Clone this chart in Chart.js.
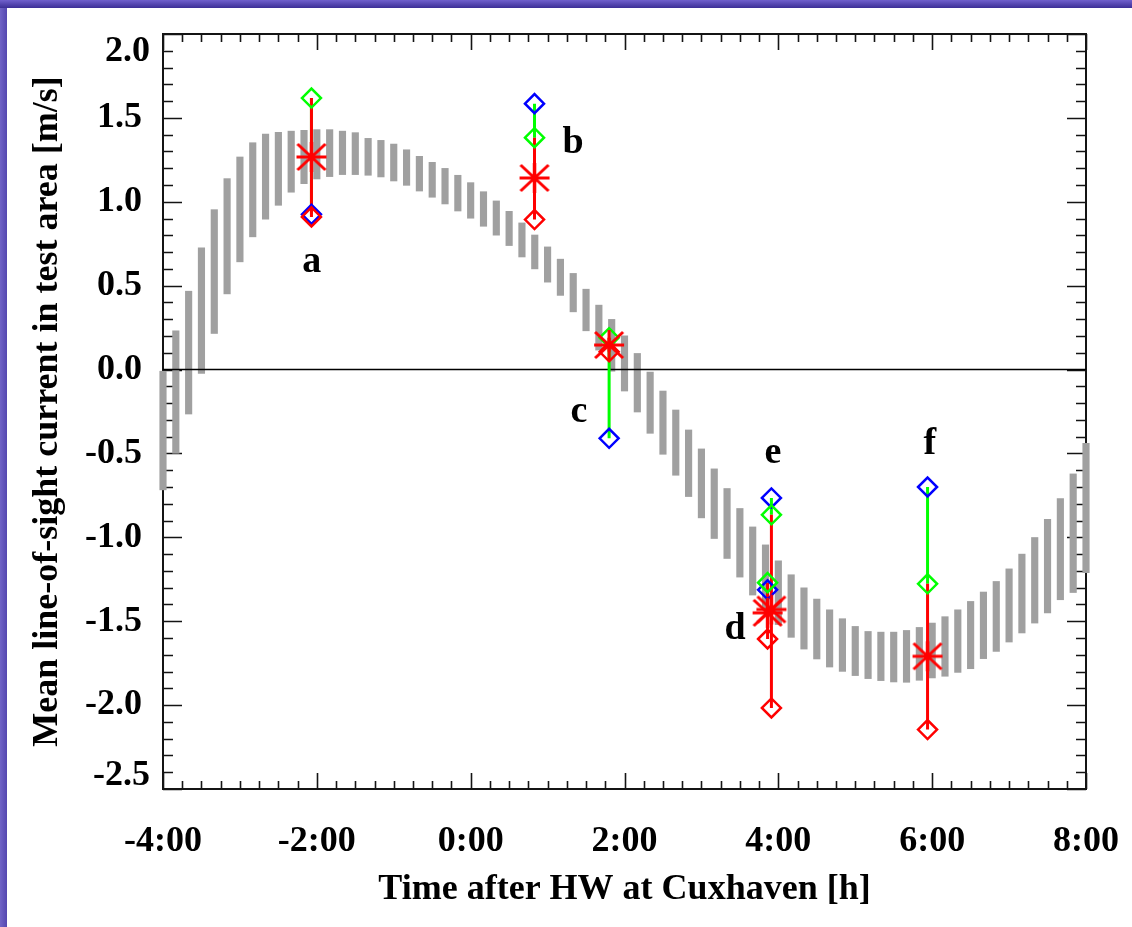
<!DOCTYPE html>
<html>
<head>
<meta charset="utf-8">
<script src="https://cdn.jsdelivr.net/npm/chart.js@4/dist/chart.umd.min.js"></script>
<style>
html,body{margin:0;padding:0;background:#fff;width:1132px;height:927px;overflow:hidden;}
#wrap{position:relative;width:1132px;height:927px;}
#c{position:absolute;left:0;top:0;}
#topbar{position:absolute;left:0;top:0;width:1132px;height:8px;background:linear-gradient(#7060cc,#3c2e96);z-index:3;}
#leftbar{position:absolute;left:0;top:0;width:7px;height:927px;background:linear-gradient(to right,#7064c6,#5447b0);z-index:2;}
</style>
</head>
<body>
<div id="wrap">
<div id="topbar"></div>
<div id="leftbar"></div>
<canvas id="c" width="1132" height="927"></canvas>
</div>
<script>
// ---- data ----
const barMinutes = [-240,-230,-220,-210,-200,-190,-180,-170,-160,-150,-140,-130,-120,-110,-100,-90,-80,-70,-60,-50,-40,-30,-20,-10,
  0,10,20,30,40,50,60,70,80,90,100,110,120,130,140,150,160,170,180,190,200,210,220,230,240,250,260,270,280,290,300,310,
  320,330,340,350,360,370,380,390,400,410,420,430,440,450,460,470,480];
const barHigh = [-0.01,0.231,0.467,0.725,0.953,1.138,1.267,1.352,1.404,1.414,1.421,1.426,1.43,1.43,1.421,1.412,1.378,1.366,1.344,1.31,1.271,1.235,1.199,1.158,
  1.114,1.06,1.005,0.943,0.874,0.802,0.731,0.658,0.573,0.479,0.384,0.299,0.201,0.096,-0.015,-0.128,-0.241,-0.36,-0.473,-0.592,-0.709,-0.828,-0.938,-1.045,-1.14,-1.223,-1.301,-1.368,-1.432,-1.485,-1.531,-1.561,
  -1.565,-1.565,-1.555,-1.537,-1.511,-1.473,-1.432,-1.382,-1.326,-1.263,-1.188,-1.1,-1.001,-0.892,-0.769,-0.622,-0.439];
const barLow = [-0.717,-0.499,-0.265,-0.023,0.215,0.451,0.642,0.791,0.896,0.979,1.057,1.108,1.136,1.15,1.162,1.162,1.158,1.148,1.124,1.098,1.064,1.027,0.987,0.945,
  0.902,0.854,0.801,0.739,0.671,0.6,0.521,0.442,0.344,0.231,0.116,-0.01,-0.128,-0.253,-0.38,-0.505,-0.63,-0.757,-0.884,-1.007,-1.126,-1.237,-1.344,-1.43,-1.52,-1.596,-1.666,-1.725,-1.773,-1.799,-1.824,-1.842,
  -1.854,-1.862,-1.864,-1.852,-1.838,-1.828,-1.805,-1.783,-1.723,-1.68,-1.624,-1.57,-1.511,-1.451,-1.372,-1.329,-1.21];

const eventNames  = ['a','b','c','d','e','f'];
const eventTimes  = [-2.07, 0.83, 1.80, 3.86, 3.91, 5.94];
const blueValues  = [0.925, 1.585, -0.41, -1.313, -0.765, -0.70];
const greenValues = [1.618, 1.382, 0.19, -1.27, -0.866, -1.277];
const redValues   = [0.91, 0.894, 0.106, -1.606, -2.017, -2.146];
const meanValues  = [1.267, 1.142, 0.146, -1.45, -1.43, -1.709];
// letter annotation anchors (time, value of text baseline)
const letterTimes  = [-2.066, 1.330, 1.408, 3.436, 3.930, 5.971];
const letterValues = [0.583, 1.291, -0.310, -1.607, -0.555, -0.503];

const xTickValues = [-4,-2,0,2,4,6,8];
const xTickLabels = ['-4:00','-2:00','0:00','2:00','4:00','6:00','8:00'];
const yTickValues = [-2.5,-2,-1.5,-1,-0.5,0,0.5,1,1.5,2];
const yTickLabels = ['-2.5','-2.0','-1.5','-1.0','-0.5','0.0','0.5','1.0','1.5','2.0'];

// ---- styles ----
const FONT = 'Liberation Serif';
const tickFont = {family: FONT, size: 36, weight: 'bold'};

function makeAsterisk(){
  const c = document.createElement('canvas');
  c.width = 36; c.height = 36;
  const g = c.getContext('2d');
  g.strokeStyle = '#ff0000'; g.lineWidth = 3;
  const cx = 18, cy = 18;
  g.beginPath();
  g.moveTo(cx-15, cy); g.lineTo(cx+15, cy);
  g.moveTo(cx, cy-15); g.lineTo(cx, cy+15);
  g.moveTo(cx-14, cy-13); g.lineTo(cx+14, cy+13);
  g.moveTo(cx+14, cy-13); g.lineTo(cx-14, cy+13);
  g.stroke();
  return c;
}
const asterisk = makeAsterisk();

function segments(fromArr, toArr){
  const out = [];
  eventTimes.forEach((t,i)=>{
    out.push({x:t, y:fromArr[i]}, {x:t, y:toArr[i]}, {x:t, y:null});
  });
  return out;
}
function points(arr){ return eventTimes.map((t,i)=>({x:t, y:arr[i]})); }

function diamond(arr, color, order){
  return {type:'line', data: points(arr), showLine:false, pointStyle:'rectRot',
    pointRadius:9.5, pointBorderWidth:2.5, pointBackgroundColor:'rgba(0,0,0,0)',
    pointBorderColor: color, order, clip:false};
}

const frameTicks = {
  id: 'frameTicks',
  beforeDatasetsDraw(chart){
    const {ctx, chartArea:{left,right,top,bottom}, scales:{x,y}} = chart;
    ctx.save();
    ctx.strokeStyle = '#141414';
    ctx.lineWidth = 2;
    ctx.strokeRect(left, top, right-left, bottom-top);
    ctx.lineWidth = 1.6;
    ctx.beginPath();
    for (let m = -16; m <= 32; m++){
      const px = Math.round(x.getPixelForValue(m/4)) + 0.5;
      const len = (m % 8 === 0) ? 16 : 8;
      ctx.moveTo(px, bottom); ctx.lineTo(px, bottom-len);
      ctx.moveTo(px, top); ctx.lineTo(px, top+len);
    }
    for (let k = -25; k <= 20; k++){
      const py = Math.round(y.getPixelForValue(k/10)) + 0.5;
      const len = (k % 5 === 0) ? 19 : 10;
      ctx.moveTo(left, py); ctx.lineTo(left+len, py);
      ctx.moveTo(right, py); ctx.lineTo(right-len, py);
    }
    ctx.stroke();
    ctx.restore();
  },
  afterDraw(chart){
    const {ctx, scales:{x,y}} = chart;
    ctx.save();
    ctx.fillStyle = '#000';
    // edge y labels pushed inside the axis range
    ctx.font = 'bold 36px "' + FONT + '"';
    ctx.textAlign = 'right'; ctx.textBaseline = 'middle';
    const n = yTickValues.length;
    ctx.fillText(yTickLabels[n-1], y.left + y.width - 13, y.getPixelForValue(yTickValues[n-1]) + 18);
    ctx.fillText(yTickLabels[0], y.left + y.width - 13, y.getPixelForValue(yTickValues[0]) - 13);
    // event letters
    ctx.font = 'bold 38px "' + FONT + '"';
    ctx.textAlign = 'center'; ctx.textBaseline = 'alphabetic';
    eventNames.forEach((s,i)=>{
      ctx.fillText(s, x.getPixelForValue(letterTimes[i]), y.getPixelForValue(letterValues[i]));
    });
    ctx.restore();
  }
};

new Chart(document.getElementById('c'), {
  type: 'bar',
  data: {
    datasets: [
      {type:'bar', data: barMinutes.map((m,i)=>({x:m/60, y:[barLow[i], barHigh[i]]})),
        backgroundColor:'#a0a0a0', borderWidth:0, barThickness:6.5, order:10, clip:false},
      {type:'line', data:[{x:-4,y:0},{x:8,y:0}], borderColor:'#000', borderWidth:1.5,
        pointRadius:0, order:9},
      {type:'line', data: segments(blueValues, greenValues), borderColor:'#00ff00', borderWidth:3,
        pointRadius:0, spanGaps:false, order:8, clip:false},
      {type:'line', data: segments(greenValues, redValues), borderColor:'#ff0000', borderWidth:3,
        pointRadius:0, spanGaps:false, order:7, clip:false},
      diamond(blueValues, '#0000ff', 6),
      diamond(greenValues, '#00ff00', 5),
      diamond(redValues, '#ff0000', 4),
      {type:'line', data: points(meanValues), showLine:false, pointStyle: asterisk,
        pointRadius:15, order:1, clip:false}
    ]
  },
  options: {
    responsive:false, devicePixelRatio:1, animation:false,
    layout:{padding:{top:34, right:46, left:0, bottom:0}},
    plugins:{legend:{display:false}, tooltip:{enabled:false}},
    scales:{
      x:{type:'linear', min:-4, max:8, offset:false,
        grid:{display:false, offset:false}, border:{display:false},
        afterBuildTicks: s => { s.ticks = xTickValues.map(v=>({value:v})); },
        afterFit: s => { s.height = 138; s.paddingLeft = 0; s.paddingRight = 0; },
        ticks:{autoSkip:false, maxRotation:0, padding:23, color:'#000', font:tickFont,
          callback: v => { const i = xTickValues.indexOf(v); return i >= 0 ? xTickLabels[i] : ''; }},
        title:{display:true, text:'Time after HW at Cuxhaven [h]', color:'#000',
          font:{family:FONT, size:36, weight:'bold'}, padding:{top:0, bottom:15.5}}
      },
      y:{type:'linear', min:-2.5, max:2.0,
        grid:{display:false}, border:{display:false},
        afterBuildTicks: s => { s.ticks = yTickValues.map(v=>({value:v})); },
        afterFit: s => { s.width = 163; s.paddingTop = 0; s.paddingBottom = 0; },
        ticks:{autoSkip:false, padding:13, font:tickFont,
          color: c => (c.index === 0 || c.index === yTickValues.length-1) ? 'rgba(0,0,0,0)' : '#000',
          callback: v => { const i = yTickValues.indexOf(v); return i >= 0 ? yTickLabels[i] : ''; }},
        title:{display:true, text:'Mean line-of-sight current in test area [m/s]', color:'#000',
          font:{family:FONT, size:36, weight:'bold'}, padding:{top:26, bottom:0}}
      }
    }
  },
  plugins:[frameTicks]
});
</script>
</body>
</html>
